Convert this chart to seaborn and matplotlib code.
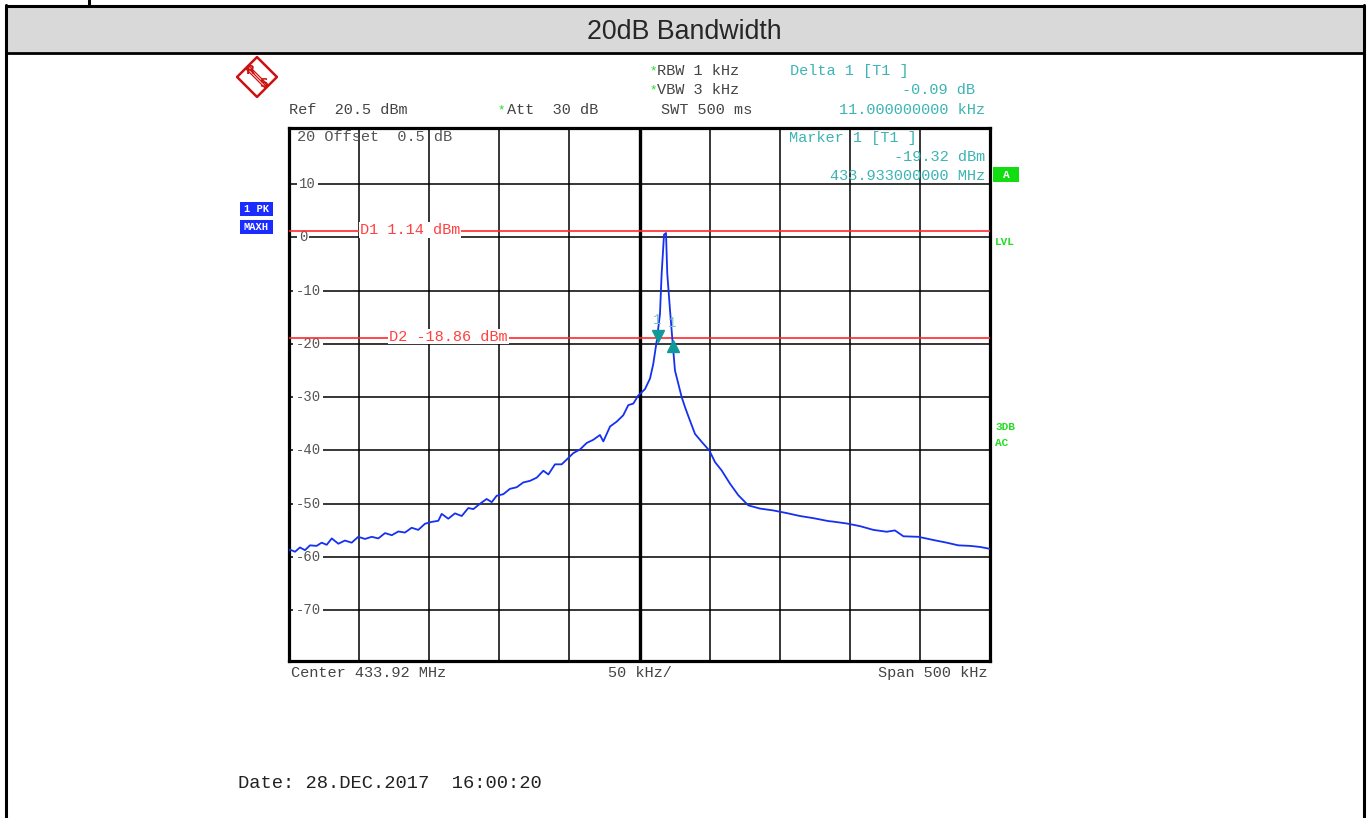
import matplotlib
matplotlib.use("Agg")
import matplotlib.pyplot as plt
import seaborn as sns
from matplotlib.patches import Rectangle, Polygon
from matplotlib.lines import Line2D

# trace (offset from 433.92 MHz centre, kHz) and level (dBm)
freq_khz = [-250.0, -249.3, -245.7, -242.2, -238.6, -235.0, -230.3, -226.7, -223.1, -219.5,
            -214.8, -210.1, -205.3, -200.6, -195.8, -191.0, -186.3, -181.5, -176.7, -172.0,
            -167.3, -162.5, -157.8, -153.0, -148.2, -143.5, -141.1, -136.4, -131.6, -126.8,
            -122.1, -118.5, -113.8, -109.0, -105.4, -101.9, -97.1, -92.4, -87.6, -82.9,
            -78.1, -73.3, -68.6, -65.0, -60.3, -55.5, -51.9, -47.2, -42.4, -37.7,
            -33.0, -28.2, -25.8, -21.0, -16.3, -11.6, -8.0, -4.4, -0.9, 3.9,
            7.5, 9.8, 12.3, 14.6, 15.8, 17.5, 18.9, 19.8, 21.8,
            23.7, 25.3, 27.7, 30.1, 32.5, 36.0, 39.6, 44.4, 49.8, 53.9,
            58.6, 64.6, 70.5, 77.6, 85.9, 95.4, 105.0, 114.5, 124.0, 134.7,
            138.2, 147.8, 157.3, 166.8, 176.3, 182.2, 188.2, 198.9, 209.6, 219.1,
            227.4, 235.7, 242.9, 248.8, 250.0]
level_dbm = [-58.8, -58.6, -59.0, -58.2, -58.7, -57.8, -57.9, -57.3, -57.7, -56.5,
             -57.5, -56.9, -57.3, -56.2, -56.6, -56.2, -56.5, -55.5, -55.9, -55.2,
             -55.4, -54.5, -54.9, -53.75, -53.4, -53.2, -51.9, -52.8, -51.8, -52.3,
             -50.8, -51.0, -50.0, -49.1, -49.7, -48.5, -48.2, -47.2, -46.9, -46.0,
             -45.7, -45.1, -43.8, -44.5, -42.6, -42.6, -41.7, -40.5, -39.8, -38.6,
             -38.0, -37.1, -38.3, -35.5, -34.6, -33.4, -31.5, -31.2, -29.7, -28.5,
             -26.5, -23.8, -19.4, -14.4, -6.8, 0.5, 0.8, -6.8, -13.8,
             -20.0, -25.0, -27.5, -30.0, -31.9, -34.4, -36.9, -38.4, -40.0, -42.2,
             -43.75, -46.25, -48.4, -50.3, -50.9, -51.25, -51.75, -52.3, -52.7, -53.25,
             -53.35, -53.7, -54.2, -54.9, -55.25, -55.0, -56.1, -56.2, -56.8, -57.3,
             -57.8, -57.9, -58.1, -58.4, -58.5]

y_ticks = [20, 10, 0, -10, -20, -30, -40, -50, -60, -70]
x_grid = [-200, -150, -100, -50, 0, 50, 100, 150, 200]
display_lines = [("D1", 1.14, -199.5), ("D2", -18.86, -178.5)]
marker1 = (13.0, -19.32)
delta1 = (24.0, -19.41)

W, H = 1368, 818
MONO = "Liberation Mono"
CYAN = "#3cb4b4"
GREEN = "#22dd22"
GRAY = "#555555"
DARK = "#444444"


def fx(x):
    return x / W


def fy(y):
    return 1 - y / H


def ftext(x, y, s, **kw):
    kw.setdefault("family", MONO)
    kw.setdefault("fontsize", 11)
    kw.setdefault("va", "center")
    fig.text(fx(x), fy(y), s, **kw)


def fline(xs, ys, lw, color="black"):
    fig.add_artist(Line2D([fx(v) for v in xs], [fy(v) for v in ys],
                          transform=fig.transFigure, lw=lw, color=color))


def fbox(x0, y0, x1, y1, color):
    fig.add_artist(Rectangle((fx(x0), fy(y1)), (x1 - x0) / W, (y1 - y0) / H,
                             transform=fig.transFigure, color=color, lw=0))


sns.set_style("white")
fig = plt.figure(figsize=(W / 100, H / 100), dpi=100)

# frame and title bar
fbox(7, 7, 1364, 52, "#d9d9d9")
fline([6, 1364], [6, 6], 2.2)
fline([6, 6], [5, 818], 2.2)
fline([1364, 1364], [5, 818], 2.2)
fline([6, 1364], [52.5, 52.5], 2.0)
fline([89, 89], [0, 4], 2.2)
fig.text(0.5, fy(32), "20dB Bandwidth", ha="center", va="center",
         family="Liberation Sans", fontsize=19.3)

# spectrum axes
ax = fig.add_axes([fx(289), fy(661), (990 - 289) / W, (661 - 128) / H])
ax.set_xlim(-250, 250)
ax.set_ylim(-79.5, 20.5)
ax.set_xticks([])
ax.set_yticks([])
for s in ax.spines.values():
    s.set_linewidth(2.3)
    s.set_color("black")

for xv in x_grid:
    ax.axvline(xv, color="black", lw=2.4 if xv == 0 else 1.1, zorder=1)
for yv in y_ticks[1:]:
    ax.axhline(yv, color="black", lw=1.1, zorder=1)
    ax.text(-245.5 if yv < 0 else -243, yv, str(yv), family=MONO, fontsize=10,
            color=GRAY, va="center", ha="left", zorder=2,
            bbox=dict(facecolor="white", edgecolor="none", pad=1.5))

for name, lvl, xpos in display_lines:
    ax.axhline(lvl, color="#ff2a2a", lw=1.2, zorder=3)
    ax.text(xpos, lvl + 0.2, f"{name} {lvl:.2f} dBm", family=MONO, fontsize=11,
            color="#ff4040", va="center", ha="left", zorder=4,
            bbox=dict(facecolor="white", edgecolor="none", pad=0.5))

sns.lineplot(x=freq_khz, y=level_dbm, ax=ax, color="#1530f0", lw=1.3,
             estimator=None, sort=False, zorder=5)

ax.plot(marker1[0], marker1[1] + 0.8, marker="v", ms=8, color="#119999", zorder=6)
ax.plot(delta1[0], delta1[1] - 1.0, marker="^", ms=8, color="#119999", zorder=6)
ax.text(marker1[0] - 0.5, -15.5, "1", family=MONO, fontsize=10, color="#80c0c0",
        ha="center", va="center", zorder=6)
ax.text(delta1[0] - 1.0, -16.0, "1", family=MONO, fontsize=10, color="#80c0c0",
        ha="center", va="center", zorder=6)

ax.text(-244, 18.8, "20 Offset  0.5 dB", family=MONO, fontsize=11, color=GRAY,
        va="center", ha="left", zorder=2)

# marker readout inside the grid
ftext(789, 138, "Marker 1 [T1 ]", color=CYAN)
ftext(985, 157, "-19.32 dBm", color=CYAN, ha="right")
ftext(985, 176, "433.933000000 MHz", color=CYAN, ha="right")

# header
ftext(289, 110, "Ref  20.5 dBm", color=DARK)
ftext(497, 110, "*", color=GREEN, fontsize=9)
ftext(507, 110, "Att  30 dB", color=DARK)
ftext(649, 71, "*", color=GREEN, fontsize=9)
ftext(657, 71, "RBW 1 kHz", color=DARK)
ftext(649, 90, "*", color=GREEN, fontsize=9)
ftext(657, 90, "VBW 3 kHz", color=DARK)
ftext(661, 110, "SWT 500 ms", color=DARK)
ftext(790, 71, "Delta 1 [T1 ]", color=CYAN)
ftext(975, 90, "-0.09 dB", color=CYAN, ha="right")
ftext(985, 110, "11.000000000 kHz", color=CYAN, ha="right")

# footer of the screen
ftext(291, 673, "Center 433.92 MHz", color=DARK)
ftext(608, 673, "50 kHz/", color=DARK)
ftext(988, 673, "Span 500 kHz", color=DARK, ha="right")
ftext(238, 783, "Date: 28.DEC.2017  16:00:20", color="#222222", fontsize=13.5)

# side badges
fbox(240, 202, 273, 216, "#1a2cff")
ftext(256.5, 209, "1 PK", color="white", fontsize=7.5, weight="bold", ha="center")
fbox(240, 220, 273, 234, "#1a2cff")
ftext(256.5, 227, "MAXH", color="white", fontsize=7.5, weight="bold", ha="center")
fbox(993, 167, 1019, 182, "#11dd11")
ftext(1006, 174.5, "A", color="white", fontsize=8, weight="bold", ha="center")
ftext(995, 242, "LVL", color=GREEN, fontsize=8, weight="bold")
ftext(995, 427, "3DB", color=GREEN, fontsize=8, weight="bold")
ftext(995, 443, "AC", color=GREEN, fontsize=8, weight="bold")

# R&S logo
lax = fig.add_axes([fx(236), fy(98), 42 / W, 42 / H])
lax.set_xlim(-1, 1)
lax.set_ylim(-1, 1)
lax.axis("off")
lax.add_patch(Polygon([[0, 0.95], [0.95, 0], [0, -0.95], [-0.95, 0]], closed=True,
                      fill=False, ec="#cc1111", lw=1.8))
for off in (-0.07, 0.0, 0.07):
    lax.plot([-0.45 + off, 0.45 + off], [0.45 + off, -0.45 + off], color="#cc1111", lw=0.9)
lax.text(-0.3, 0.32, "R", color="#cc1111", fontsize=8.5, weight="bold",
         ha="center", va="center")
lax.text(0.3, -0.3, "S", color="#cc1111", fontsize=8.5, weight="bold",
         ha="center", va="center")

fig.savefig("out.png", dpi=100)
